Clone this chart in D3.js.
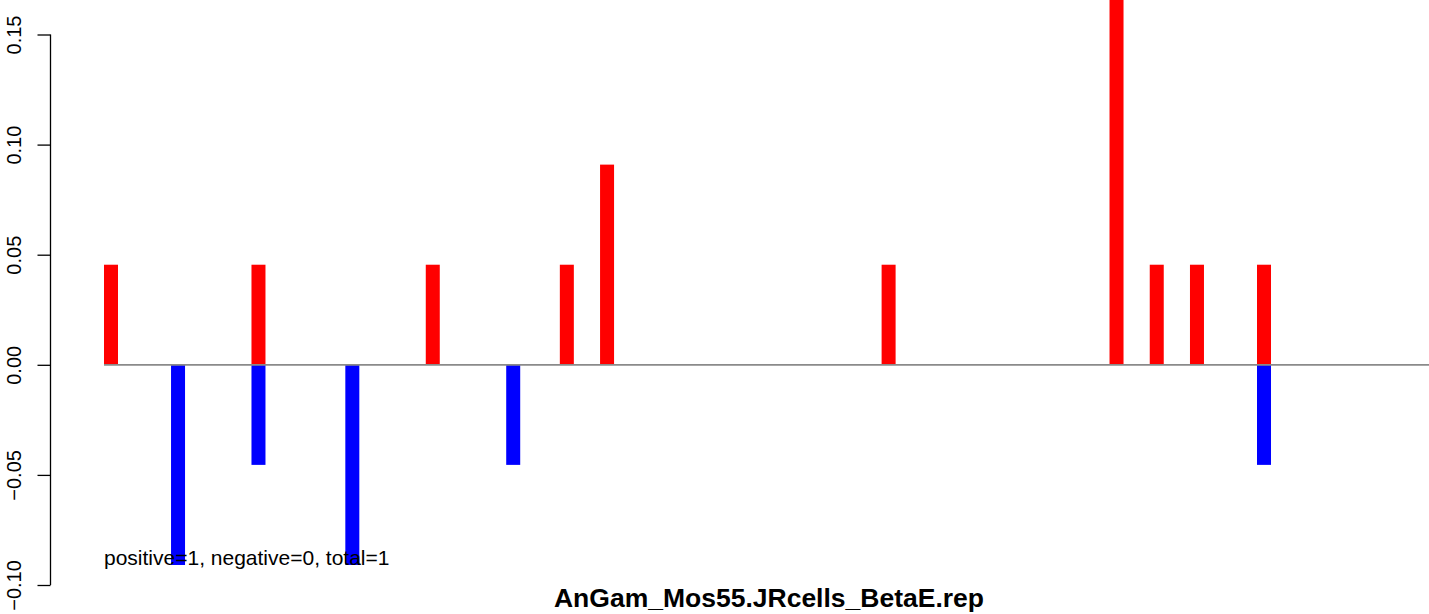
<!DOCTYPE html>
<html>
<head>
<meta charset="utf-8">
<script src="https://cdn.jsdelivr.net/npm/d3@7"></script>
<style>
  html, body { margin: 0; padding: 0; background: #fff; }
  svg { display: block; font-family: "Liberation Sans", Arial, Helvetica, sans-serif; }
</style>
</head>
<body>
<svg id="chart" width="1429" height="614"></svg>
<script>
// slot index of each bar along the x axis
const positivePositions = [0, 11, 24, 34, 37, 58, 75, 78, 81, 86];
const positiveValues    = [0.04545, 0.04545, 0.04545, 0.04545, 0.09091, 0.04545, 0.18182, 0.04545, 0.04545, 0.04545];
const negativePositions = [5, 11, 18, 30, 86];
const negativeValues    = [-0.09091, -0.04545, -0.09091, -0.04545, -0.04545];
const yTicks = [-0.10, -0.05, 0.00, 0.05, 0.10, 0.15];
const titleText = "AnGam_Mos55.JRcells_BetaE.rep";
const noteText = "positive=1, negative=0, total=1";

const svg = d3.select("#chart");
const W = 1429, H = 614;

const x = d3.scaleLinear().domain([0, 99]).range([104, 104 + 99 * 13.407]);
const y = d3.scaleLinear().domain([-0.10, 0.15]).range([585, 34.5]);
const barW = 14;

const pos = positivePositions.map((p, i) => ({p, v: positiveValues[i]}));
const neg = negativePositions.map((p, i) => ({p, v: negativeValues[i]}));

svg.append("defs").append("clipPath").attr("id", "clip")
  .append("rect").attr("x", 0).attr("y", 0).attr("width", W).attr("height", H);

const g = svg.append("g").attr("clip-path", "url(#clip)");

g.selectAll("rect.pos").data(pos).enter().append("rect")
  .attr("class", "pos")
  .attr("x", d => x(d.p))
  .attr("y", d => y(d.v))
  .attr("width", barW)
  .attr("height", d => y(0) - y(d.v))
  .attr("fill", "#ff0000");

g.selectAll("rect.neg").data(neg).enter().append("rect")
  .attr("class", "neg")
  .attr("x", d => x(d.p))
  .attr("y", y(0))
  .attr("width", barW)
  .attr("height", d => y(d.v) - y(0))
  .attr("fill", "#0000ff");

// zero line
svg.append("line")
  .attr("x1", x(0)).attr("x2", W)
  .attr("y1", y(0)).attr("y2", y(0))
  .attr("stroke", "#8a8a8a").attr("stroke-width", 1.8);

// y axis
const axis = d3.axisLeft(y).tickValues(yTicks).tickSize(13).tickFormat(d3.format(".2f"));
const ag = svg.append("g").attr("transform", "translate(50.5,0)").call(axis);
ag.select(".domain").attr("d", `M-0,${y(0.15)}V${y(-0.10)}`).attr("stroke", "#000").attr("stroke-width", 1.3);
ag.selectAll(".tick line").attr("stroke", "#000").attr("stroke-width", 1.3);
ag.selectAll(".tick text")
  .attr("transform", "rotate(-90)")
  .attr("x", 0).attr("y", -30).attr("dy", 0)
  .attr("text-anchor", "middle")
  .attr("font-size", 20)
  .attr("font-family", "Liberation Sans, Arial, sans-serif")
  .attr("fill", "#000")
  .text(d => d3.format(".2f")(d).replace("-", "\u2212"));

// note
svg.append("text")
  .attr("x", 104).attr("y", 565)
  .attr("font-size", 21)
  .attr("fill", "#000")
  .text(noteText);

// title
svg.append("text")
  .attr("x", 769).attr("y", 607)
  .attr("text-anchor", "middle")
  .attr("font-size", 26.5)
  .attr("font-weight", "bold")
  .attr("fill", "#000")
  .text(titleText);
</script>
</body>
</html>
